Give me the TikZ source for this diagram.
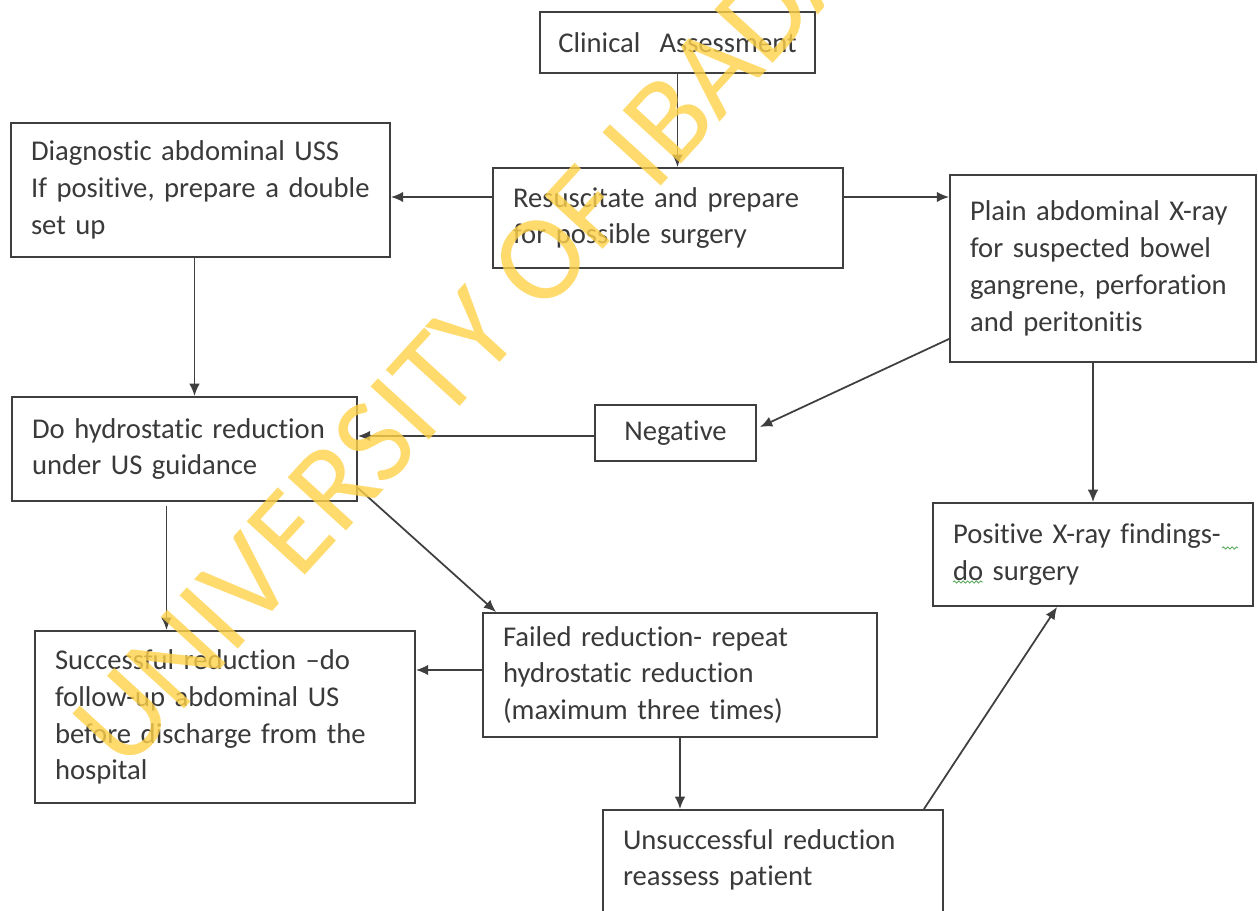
\documentclass[tikz,border=0pt]{standalone}
\usepackage{fontspec}
\setmainfont{Carlito}[Ligatures=NoCommon, WordSpace=0.6]
\newfontfamily\wmfont{Carlito}
\usepackage{tikz}
\usetikzlibrary{arrows.meta,positioning,calc,decorations.pathmorphing}
\usepackage{xcolor}
\definecolor{linegray}{HTML}{3F3F3F}
\definecolor{textgray}{HTML}{3A3A3A}
\definecolor{wmyellow}{HTML}{FFD24A}
\definecolor{spellgreen}{HTML}{5DAA5D}

\tikzset{
  flowbox/.style={draw=linegray, line width=1.1pt, text=textgray, align=left,
    inner xsep=0.4cm, inner ysep=0pt, font=\fontsize{16.3}{21}\selectfont},
  flowarrow/.style={draw=linegray, line width=1pt, -{Latex[length=7pt,width=6pt]}},
  watermark/.style={text=wmyellow, opacity=0.8, rotate=47.6, inner sep=0pt,
    font=\wmfont\fontsize{70}{80}\selectfont},
  spellmark/.style={spellgreen, line width=0.5pt, decorate,
    decoration={snake, amplitude=0.6pt, segment length=2.5pt}}
}

\begin{document}
\begin{tikzpicture}[x=0.02cm,y=-0.02cm]
\useasboundingbox (0,0) rectangle (1258,911);
\fill[white] (0,0) rectangle (1258,911);

% boxes
\node[flowbox, align=center, inner xsep=0.25cm, text width=5cm, minimum height=1.22cm] (clin) at (677.5,42.5) {Clinical~ Assessment};
\node[flowbox, text width=6.78cm, minimum height=2.68cm] (diag) at (200.5,190) {Diagnostic abdominal USS\\If positive, prepare a double\\set up};
\node[flowbox, text width=6.2cm, minimum height=2cm] (resus) at (668,218) {Resuscitate and prepare\\for possible surgery};
\node[flowbox, text width=5.32cm, minimum height=3.74cm] (xray) at (1103,268.5) {Plain abdominal X-ray\\for suspected bowel\\gangrene, perforation\\and peritonitis};
\node[flowbox, text width=6.1cm, minimum height=2.08cm] (hydro) at (184.5,449) {Do hydrostatic reduction\\under US guidance};
\node[flowbox, align=center, text width=2.42cm, minimum height=1.12cm] (neg) at (675.5,433) {Negative};
\node[flowbox, text width=5.6cm, minimum height=2.06cm] (pos) at (1093,554.5) {Positive X-ray findings-\\do surgery};
\node[flowbox, text width=6.8cm, minimum height=3.44cm] (succ) at (225,717) {Successful reduction --do\\follow-up abdominal US\\before discharge from the\\hospital};
\node[flowbox, text width=7.08cm, minimum height=2.48cm] (fail) at (680,675) {Failed reduction- repeat\\hydrostatic reduction\\(maximum three times)};
\node[flowbox, text width=6.0cm, minimum height=2.64cm] (unsucc) at (773,876) {Unsuccessful reduction\\reassess patient\\\mbox{}};

% connectors
\draw[flowarrow] (clin.south) -- (clin.south |- resus.north);
\draw[flowarrow] ($(resus.west)+(0,-21)$) coordinate (rw) -- (rw -| diag.east);
\draw[flowarrow] ($(resus.east)+(0,-21)$) coordinate (re) -- (re -| xray.west);
\draw[flowarrow] ($(diag.south)+(-6,0)$) coordinate (ds) -- (ds |- hydro.north);
\draw[flowarrow] ($(xray.south west)+(0,-24)$) -- ($(neg.east)+(3,-6)$);
\draw[flowarrow] ($(neg.west)+(0,3)$) coordinate (nw) -- (nw -| hydro.east);
\draw[flowarrow] (pos.north |- xray.south) -- (pos.north);
\draw[flowarrow] ($(hydro.south)+(-18,4)$) coordinate (hs) -- (hs |- succ.north);
\draw[flowarrow] ($(hydro.south east)+(0,-14)$) -- ($(fail.north west)+(14,0)$);
\draw[flowarrow] ($(fail.west)+(0,-5)$) coordinate (fw) -- (fw -| succ.east);
\draw[flowarrow] (fail.south) -- (fail.south |- unsucc.north);
\draw[flowarrow] ($(unsucc.north east)+(-20,0)$) -- ($(pos.south west)+(125,0)$);

% spell-check marks
\draw[spellmark] (1222,548) -- (1238,548);
\draw[spellmark] (953,582) -- (983,582);

% watermark
\node[watermark] (wm) at (493,312) {UNIVERSITY OF IBADAN};
\end{tikzpicture}
\end{document}
